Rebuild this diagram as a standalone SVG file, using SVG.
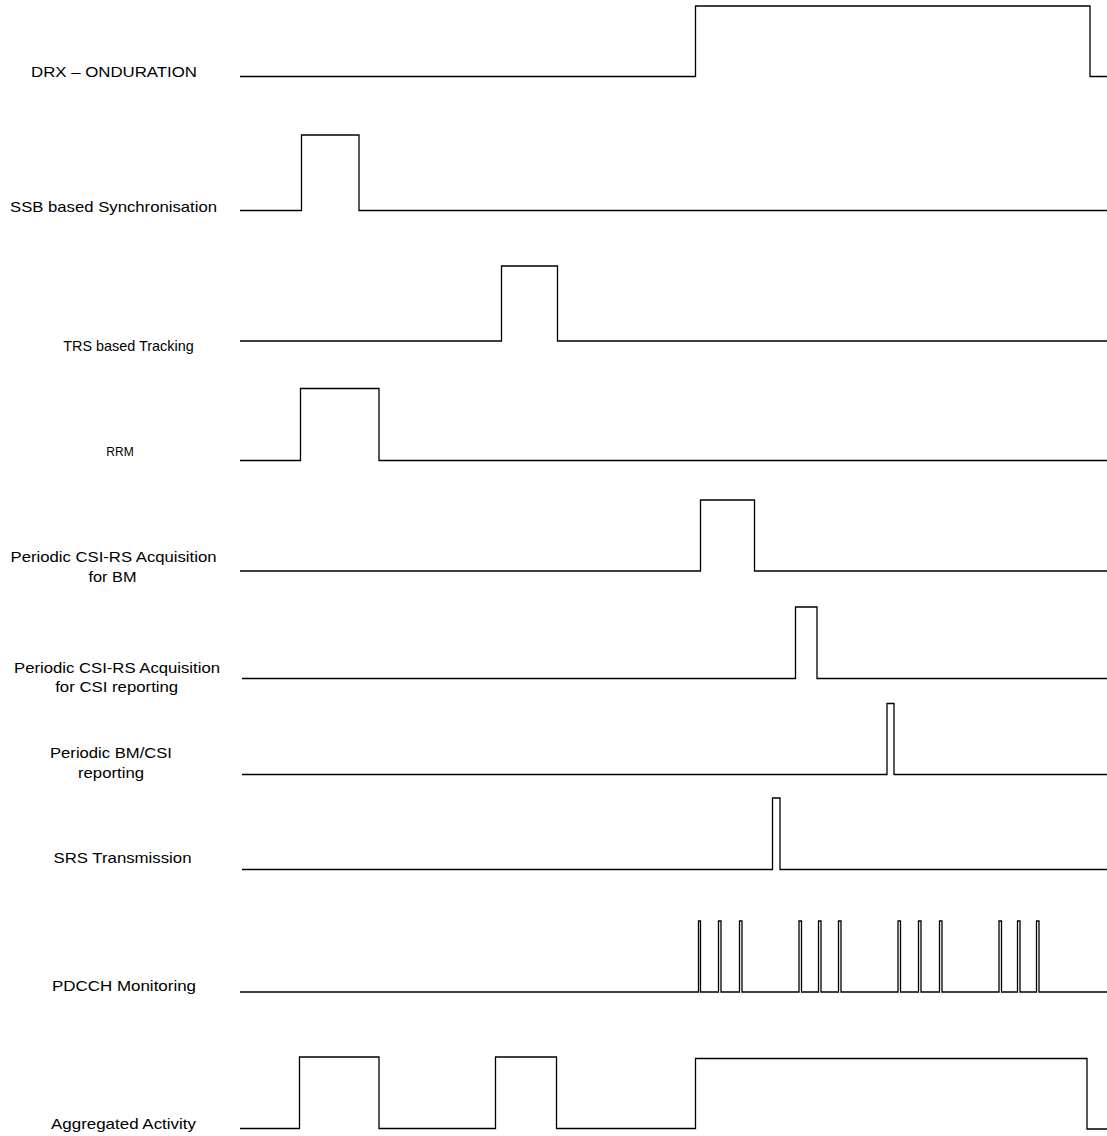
<svg xmlns="http://www.w3.org/2000/svg" width="1107" height="1136" viewBox="0 0 1107 1136">
<style>
.lbl{font-family:"Liberation Sans",Arial,sans-serif;font-size:15px;fill:#000;text-anchor:middle}
.sig{fill:none;stroke:#000;stroke-width:1.3;stroke-linejoin:miter}
</style>
<rect width="1107" height="1136" fill="#fff"/>
<g id="labels">
<text class="lbl" x="114" y="77" textLength="166" lengthAdjust="spacingAndGlyphs">DRX – ONDURATION</text>
<text class="lbl" x="113.5" y="212" textLength="207" lengthAdjust="spacingAndGlyphs">SSB based Synchronisation</text>
<text class="lbl" x="128.5" y="351" style="font-size:14.4px">TRS based Tracking</text>
<text class="lbl" x="120" y="456" style="font-size:12px">RRM</text>
<text class="lbl" x="113.5" y="562" textLength="206" lengthAdjust="spacingAndGlyphs">Periodic CSI-RS Acquisition</text>
<text class="lbl" x="112.5" y="582" textLength="48" lengthAdjust="spacingAndGlyphs">for BM</text>
<text class="lbl" x="117" y="673" textLength="206" lengthAdjust="spacingAndGlyphs">Periodic CSI-RS Acquisition</text>
<text class="lbl" x="116.7" y="692" textLength="123" lengthAdjust="spacingAndGlyphs">for CSI reporting</text>
<text class="lbl" x="111" y="758" textLength="122" lengthAdjust="spacingAndGlyphs">Periodic BM/CSI</text>
<text class="lbl" x="111" y="778" textLength="66" lengthAdjust="spacingAndGlyphs">reporting</text>
<text class="lbl" x="122.5" y="863" textLength="138" lengthAdjust="spacingAndGlyphs">SRS Transmission</text>
<text class="lbl" x="124" y="991" textLength="144" lengthAdjust="spacingAndGlyphs">PDCCH Monitoring</text>
<text class="lbl" x="123.5" y="1129" textLength="145" lengthAdjust="spacingAndGlyphs">Aggregated Activity</text>
</g>
<g id="signals">
<g id="drx"><polyline class="sig" points="240,76.5 695.5,76.5 695.5,6 1090,6 1090,76.5 1107,76.5"/></g>
<g id="ssb"><polyline class="sig" points="240,210.5 301.5,210.5 301.5,135 359,135 359,210.5 1107,210.5"/></g>
<g id="trs"><polyline class="sig" points="240,341 501.5,341 501.5,266 557.5,266 557.5,341 1107,341"/></g>
<g id="rrm"><polyline class="sig" points="240,460.5 300.5,460.5 300.5,388.5 379,388.5 379,460.5 1107,460.5"/></g>
<g id="csibm"><polyline class="sig" points="240,571 700.5,571 700.5,500 754.5,500 754.5,571 1107,571"/></g>
<g id="csirep"><polyline class="sig" points="242,678.5 795.5,678.5 795.5,607 817,607 817,678.5 1107,678.5"/></g>
<g id="bmcsi"><polyline class="sig" points="242,774.5 887,774.5 887,703.5 894,703.5 894,774.5 1107,774.5"/></g>
<g id="srs"><polyline class="sig" points="242,869.5 772.5,869.5 772.5,798 780,798 780,869.5 1107,869.5"/></g>
<g id="pdcch"><polyline class="sig" points="240,992 698.5,992 698.5,921 700.5,921 700.5,992 718.5,992 718.5,921 721,921 721,992 739.5,992 739.5,921 742,921 742,992 799,992 799,921 801.5,921 801.5,992 818.5,992 818.5,921 821,921 821,992 838.5,992 838.5,921 841,921 841,992 898,992 898,921 900.5,921 900.5,992 918.5,992 918.5,921 921,921 921,992 939.5,992 939.5,921 942,921 942,992 999,992 999,921 1001.5,921 1001.5,992 1017.5,992 1017.5,921 1020,921 1020,992 1036.5,992 1036.5,921 1039,921 1039,992 1107,992"/></g>
<g id="agg"><polyline class="sig" points="240,1128.5 299.5,1128.5 299.5,1057 379,1057 379,1128.5 495.5,1128.5 495.5,1057 556.5,1057 556.5,1128.5 695.5,1128.5 695.5,1058.5 1087,1058.5 1087,1129 1107,1129"/></g>
</g>
</svg>
